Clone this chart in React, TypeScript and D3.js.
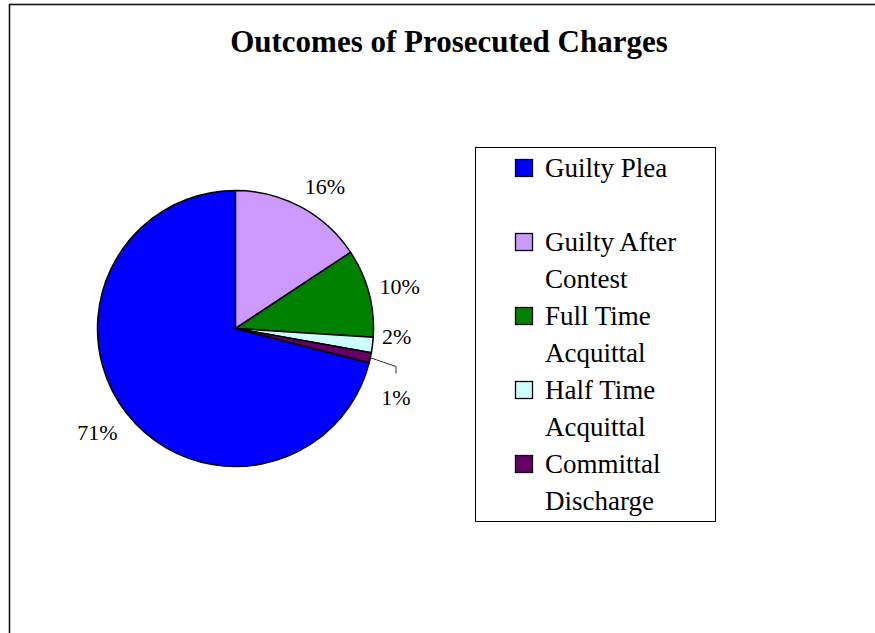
import React from "react";
import * as d3 from "d3";

const title = "Outcomes of Prosecuted Charges";
const categories = [
  "Guilty Plea",
  "Guilty After Contest",
  "Full Time Acquittal",
  "Half Time Acquittal",
  "Committal Discharge",
];
const values = [71.0, 15.7, 10.3, 1.8, 1.2];
const colors = ["#0000FF", "#CC99FF", "#008000", "#CCFFFF", "#660066"];

// layout-only: label nudges (px) relative to the computed label anchor
const labelNudge: [number, number][] = [
  [-3.7, 0],
  [9, 7.7],
  [0, 2],
  [-7.6, -12.7],
  [-5.6, 33],
];

const W = 875;
const H = 633;
const cx = 235.5;
const cy = 328.5;
const R = 138;
const labelR = 170;
const serif = "'Liberation Serif', 'Times New Roman', serif";

function wrap(text: string, maxW: number, font: string): string[] {
  const canvas = document.createElement("canvas");
  const ctx = canvas.getContext("2d")!;
  ctx.font = font;
  const words = text.split(" ");
  const lines: string[] = [];
  let cur = "";
  for (const w of words) {
    const t = cur ? cur + " " + w : w;
    if (ctx.measureText(t).width > maxW && cur) {
      lines.push(cur);
      cur = w;
    } else cur = t;
  }
  if (cur) lines.push(cur);
  return lines;
}

export default function App() {
  const total = d3.sum(values);
  const start = (-2 * Math.PI * values[0]) / total;
  const pie = d3
    .pie<number>()
    .sort(null)
    .startAngle(start)
    .endAngle(start + 2 * Math.PI)
    .value((d) => d);
  const arcs = pie(values);
  const arc = d3.arc<d3.PieArcDatum<number>>().innerRadius(0).outerRadius(R);
  const labelArc = d3
    .arc<d3.PieArcDatum<number>>()
    .innerRadius(labelR)
    .outerRadius(labelR);
  const edgeArc = d3.arc<d3.PieArcDatum<number>>().innerRadius(R).outerRadius(R);

  const legendFontSize = 27;
  const legendFont = `${legendFontSize}px ${serif}`;
  const legendX = 475.5;
  const legendY = 147.5;
  const legendW = 240;
  const legendH = 374;
  const entryStep = 74;
  const lineStep = 37;
  const firstBase = 177;

  return (
    <svg
      width={W}
      height={H}
      style={{ position: "absolute", left: 0, top: 0, background: "#fff" }}
    >
      <rect x={0} y={0} width={W} height={H} fill="#fff" />
      <rect
        x={9.5}
        y={4.5}
        width={1000}
        height={1000}
        fill="none"
        stroke="#111"
        strokeWidth={1.6}
      />
      <text
        x={449}
        y={52}
        textAnchor="middle"
        fontFamily={serif}
        fontWeight="bold"
        fontSize={31}
        fill="#000"
      >
        {title}
      </text>
      <g transform={`translate(${cx},${cy})`}>
        {arcs.map((a, i) => (
          <path
            key={i}
            d={arc(a) || ""}
            fill={colors[i]}
            stroke="#000"
            strokeWidth={1.5}
            strokeLinejoin="round"
          />
        ))}
        {arcs.map((a, i) => {
          const [lx0, ly0] = labelArc.centroid(a);
          const lx = lx0 + labelNudge[i][0];
          const ly = ly0 + labelNudge[i][1];
          const pct = Math.round((a.value / total) * 100) + "%";
          const moved = Math.hypot(labelNudge[i][0], labelNudge[i][1]) > 20;
          const [ex, ey] = edgeArc.centroid(a);
          return (
            <g key={"l" + i}>
              {moved && (
                <polyline
                  points={`${ex},${ey} ${lx},${ly - 31} ${lx},${ly - 24}`}
                  fill="none"
                  stroke="#000"
                  strokeWidth={0.8}
                />
              )}
              <text
                x={lx}
                y={ly}
                dy="0.34em"
                textAnchor="middle"
                fontFamily={serif}
                fontSize={22}
                fill="#000"
              >
                {pct}
              </text>
            </g>
          );
        })}
      </g>
      <rect
        x={legendX}
        y={legendY}
        width={legendW}
        height={legendH}
        fill="#fff"
        stroke="#000"
        strokeWidth={1}
      />
      {categories.map((c, i) => {
        const base = firstBase + i * entryStep;
        const lines = wrap(c, 165, legendFont);
        return (
          <g key={"lg" + i}>
            <rect
              x={515.5}
              y={base - 17.5}
              width={17}
              height={17}
              fill={colors[i]}
              stroke="#000"
              strokeWidth={1.3}
            />
            {lines.map((ln, j) => (
              <text
                key={j}
                x={545}
                y={base + j * lineStep}
                fontFamily={serif}
                fontSize={legendFontSize}
                fill="#000"
              >
                {ln}
              </text>
            ))}
          </g>
        );
      })}
    </svg>
  );
}
